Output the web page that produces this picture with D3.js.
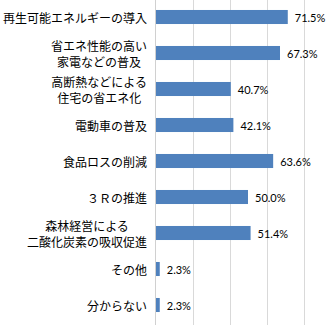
<!DOCTYPE html>
<html><head><meta charset="utf-8">
<script src="https://cdn.jsdelivr.net/npm/d3@7"></script>
<style>body{margin:0;background:#fff}svg{display:block}</style>
</head><body>
<svg id="c" width="330" height="330"></svg>
<script>
const categories = [
  ["再生可能エネルギーの導入"],
  ["省エネ性能の高い","家電などの普及"],
  ["高断熱などによる","住宅の省エネ化"],
  ["電動車の普及"],
  ["食品ロスの削減"],
  ["３Ｒの推進"],
  ["森林経営による","二酸化炭素の吸収促進"],
  ["その他"],
  ["分からない"]
];
const values = [71.5, 67.3, 40.7, 42.1, 63.6, 50.0, 51.4, 2.3, 2.3];
const xTicks = [0, 20, 40, 60, 80];

const svg = d3.select("#c");
const x = d3.scaleLinear().domain([0, 80]).range([155.5, 303.5]);
const y = d3.scaleBand().domain(d3.range(values.length)).range([-1, 323]).paddingInner(0.61).paddingOuter(0.305);

// gridlines
svg.append("g").selectAll("line").data(xTicks.slice(1)).join("line")
  .attr("x1", d => Math.round(x(d)) + 0.5).attr("x2", d => Math.round(x(d)) + 0.5)
  .attr("y1", 0).attr("y2", 325)
  .attr("stroke", "#D9D9D9").attr("stroke-width", 1);

// bars
svg.append("g").selectAll("rect").data(values).join("rect")
  .attr("x", x(0)).attr("y", (d, i) => y(i))
  .attr("width", d => x(d) - x(0)).attr("height", y.bandwidth())
  .attr("fill", "#4F81BD");

// axis line
svg.append("line").attr("x1", 155.5).attr("x2", 155.5).attr("y1", 0).attr("y2", 325)
  .attr("stroke", "#D0D0D0");

// value labels
svg.append("g").selectAll("text").data(values).join("text")
  .attr("x", d => x(d) + 7).attr("y", (d, i) => y(i) + y.bandwidth() / 2)
  .attr("dominant-baseline", "central")
  .attr("font-family", "Lato, 'Liberation Sans', sans-serif").attr("font-size", 11)
  .attr("fill", "#000")
  .text(d => d.toFixed(1) + "%");

// category labels
const lblRight = 147, lineH = 16;
categories.forEach((lines, i) => {
  const cy = y(i) + y.bandwidth() / 2;
  const g = svg.append("g");
  const texts = lines.map((t, k) => g.append("text")
    .attr("font-family", "'Noto Sans CJK JP', sans-serif").attr("font-size", 12)
    .attr("fill", "#000").attr("text-anchor", "middle")
    .attr("dominant-baseline", "central")
    .attr("y", cy + (k - (lines.length - 1) / 2) * lineH)
    .text(t));
  const maxW = d3.max(texts, t => t.node().getComputedTextLength());
  texts.forEach(t => t.attr("x", lblRight - maxW / 2));
});
</script>
</body></html>
